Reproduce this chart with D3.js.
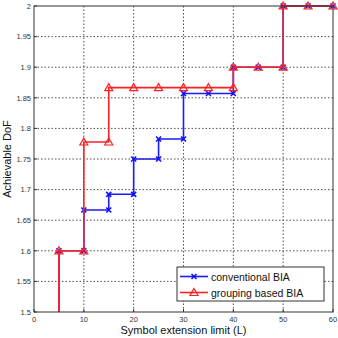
<!DOCTYPE html>
<html><head><meta charset="utf-8">
<script src="https://cdn.jsdelivr.net/npm/d3@7"></script>
<style>body{margin:0;background:#fff}svg{display:block}</style>
</head><body>
<script>
const L = [5,10,15,20,25,30,35,40,45,50,55,60];
const conventional = [1.6,1.6667,1.6923,1.75,1.7826,1.8571,1.8571,1.9,1.9,2,2,2];
const grouping =     [1.6,1.7778,1.8667,1.8667,1.8667,1.8667,1.8667,1.9,1.9,2,2,2];
const startValue = 1.5;
const xTicks = [0,10,20,30,40,50,60];
const yTicks = [1.5,1.55,1.6,1.65,1.7,1.75,1.8,1.85,1.9,1.95,2];
const seriesNames = ["conventional BIA","grouping based BIA"];

(function(){
const W=338,H=338, mL=34, mR=333, mT=6, mB=312;
const svg=d3.select("body").append("svg").attr("width",W).attr("height",H);
const x=d3.scaleLinear().domain([0,60]).range([mL,mR]);
const y=d3.scaleLinear().domain([1.5,2]).range([mB,mT]);

// grid
const g=svg.append("g");
g.selectAll(".vx").data(xTicks.slice(1,-1)).enter().append("line")
 .attr("x1",d=>x(d)).attr("x2",d=>x(d)).attr("y1",mT).attr("y2",mB)
 .attr("stroke","#222").attr("stroke-width",0.8).attr("stroke-dasharray","1.5,2");
g.selectAll(".hy").data(yTicks.slice(1,-1)).enter().append("line")
 .attr("y1",d=>y(d)).attr("y2",d=>y(d)).attr("x1",mL).attr("x2",mR)
 .attr("stroke","#222").attr("stroke-width",0.8).attr("stroke-dasharray","1.5,2");

// stairs vertices
function stairs(vals){
  const pts=[[L[0],startValue]];
  pts.push([L[0],vals[0]]);
  for(let i=1;i<L.length;i++){
    pts.push([L[i],vals[i-1]]);
    if(vals[i]!==vals[i-1]) pts.push([L[i],vals[i]]);
  }
  return pts;
}
const line=d3.line().x(d=>x(d[0])).y(d=>y(d[1]));
svg.append("clipPath").attr("id","c").append("rect")
 .attr("x",mL).attr("y",mT-6).attr("width",mR-mL+6).attr("height",mB-mT+6);

const cPts=stairs(conventional), gPts=stairs(grouping);
const plot=svg.append("g").attr("clip-path","url(#c)");
plot.append("path").attr("d",line(cPts)).attr("fill","none").attr("stroke","#1a1aff").attr("stroke-width",1.6);
plot.append("g").selectAll("path").data(cPts.slice(1)).enter().append("path")
 .attr("transform",d=>`translate(${x(d[0])},${y(d[1])})`)
 .attr("d","M-2.5,-2.5L2.5,2.5M-2.5,2.5L2.5,-2.5").attr("stroke","#1010ff").attr("stroke-width",1.6);
plot.append("path").attr("d",line(gPts)).attr("fill","none").attr("stroke","#ff2020").attr("stroke-width",1.6);
plot.append("g").selectAll("path").data(gPts.slice(1)).enter().append("path")
 .attr("transform",d=>`translate(${x(d[0])},${y(d[1])})`)
 .attr("d","M0,-4L4,3L-4,3Z").attr("fill","none").attr("stroke","#ff2020").attr("stroke-width",1.2);

// frame
svg.append("rect").attr("x",mL).attr("y",mT).attr("width",mR-mL).attr("height",mB-mT)
 .attr("fill","none").attr("stroke","#333").attr("stroke-width",1);

// ticks
svg.selectAll(".xt").data(xTicks).enter().append("line")
 .attr("x1",d=>x(d)).attr("x2",d=>x(d)).attr("y1",mB).attr("y2",mB-3).attr("stroke","#333");
svg.selectAll(".yt").data(yTicks).enter().append("line")
 .attr("y1",d=>y(d)).attr("y2",d=>y(d)).attr("x1",mL).attr("x2",mL+3).attr("stroke","#333");
svg.selectAll(".xl").data(xTicks).enter().append("text")
 .attr("x",d=>x(d)).attr("y",mB+10).attr("text-anchor","middle")
 .attr("font-family","Arial, Liberation Sans").attr("font-size",7.5).attr("fill","#333").text(d=>d);
svg.selectAll(".yl").data(yTicks).enter().append("text")
 .attr("x",mL-3).attr("y",d=>y(d)+2.7).attr("text-anchor","end")
 .attr("font-family","Arial, Liberation Sans").attr("font-size",7.5).attr("fill","#333").text(d=>d);

svg.append("text").attr("x",(mL+mR)/2).attr("y",334).attr("text-anchor","middle")
 .attr("font-family","Arial, Liberation Sans").attr("font-size",11).attr("fill","#111").text("Symbol extension limit (L)");
svg.append("text").attr("transform",`translate(11,${(mT+mB)/2}) rotate(-90)`).attr("text-anchor","middle")
 .attr("font-family","Arial, Liberation Sans").attr("font-size",11).attr("fill","#111").text("Achievable DoF");

// legend
const lg=svg.append("g");
lg.append("rect").attr("x",177).attr("y",267).attr("width",147).attr("height",34)
 .attr("fill","#fff").attr("stroke","#333").attr("stroke-width",1);
const ly=[276.5,292.5];
lg.append("line").attr("x1",180).attr("x2",208).attr("y1",ly[0]).attr("y2",ly[0]).attr("stroke","#1a1aff").attr("stroke-width",1.6);
lg.append("path").attr("transform",`translate(194,${ly[0]})`).attr("d","M-2.5,-2.5L2.5,2.5M-2.5,2.5L2.5,-2.5").attr("stroke","#1010ff").attr("stroke-width",1.6);
lg.append("line").attr("x1",180).attr("x2",208).attr("y1",ly[1]).attr("y2",ly[1]).attr("stroke","#ff2020").attr("stroke-width",1.6);
lg.append("path").attr("transform",`translate(194,${ly[1]})`).attr("d","M0,-4L4,3L-4,3Z").attr("fill","none").attr("stroke","#ff2020").attr("stroke-width",1.2);
seriesNames.forEach((n,i)=>lg.append("text").attr("x",211).attr("y",ly[i]+4)
 .attr("font-family","Arial, Liberation Sans").attr("font-size",10.5).attr("fill","#111").text(n));
})();
</script>
</body></html>
